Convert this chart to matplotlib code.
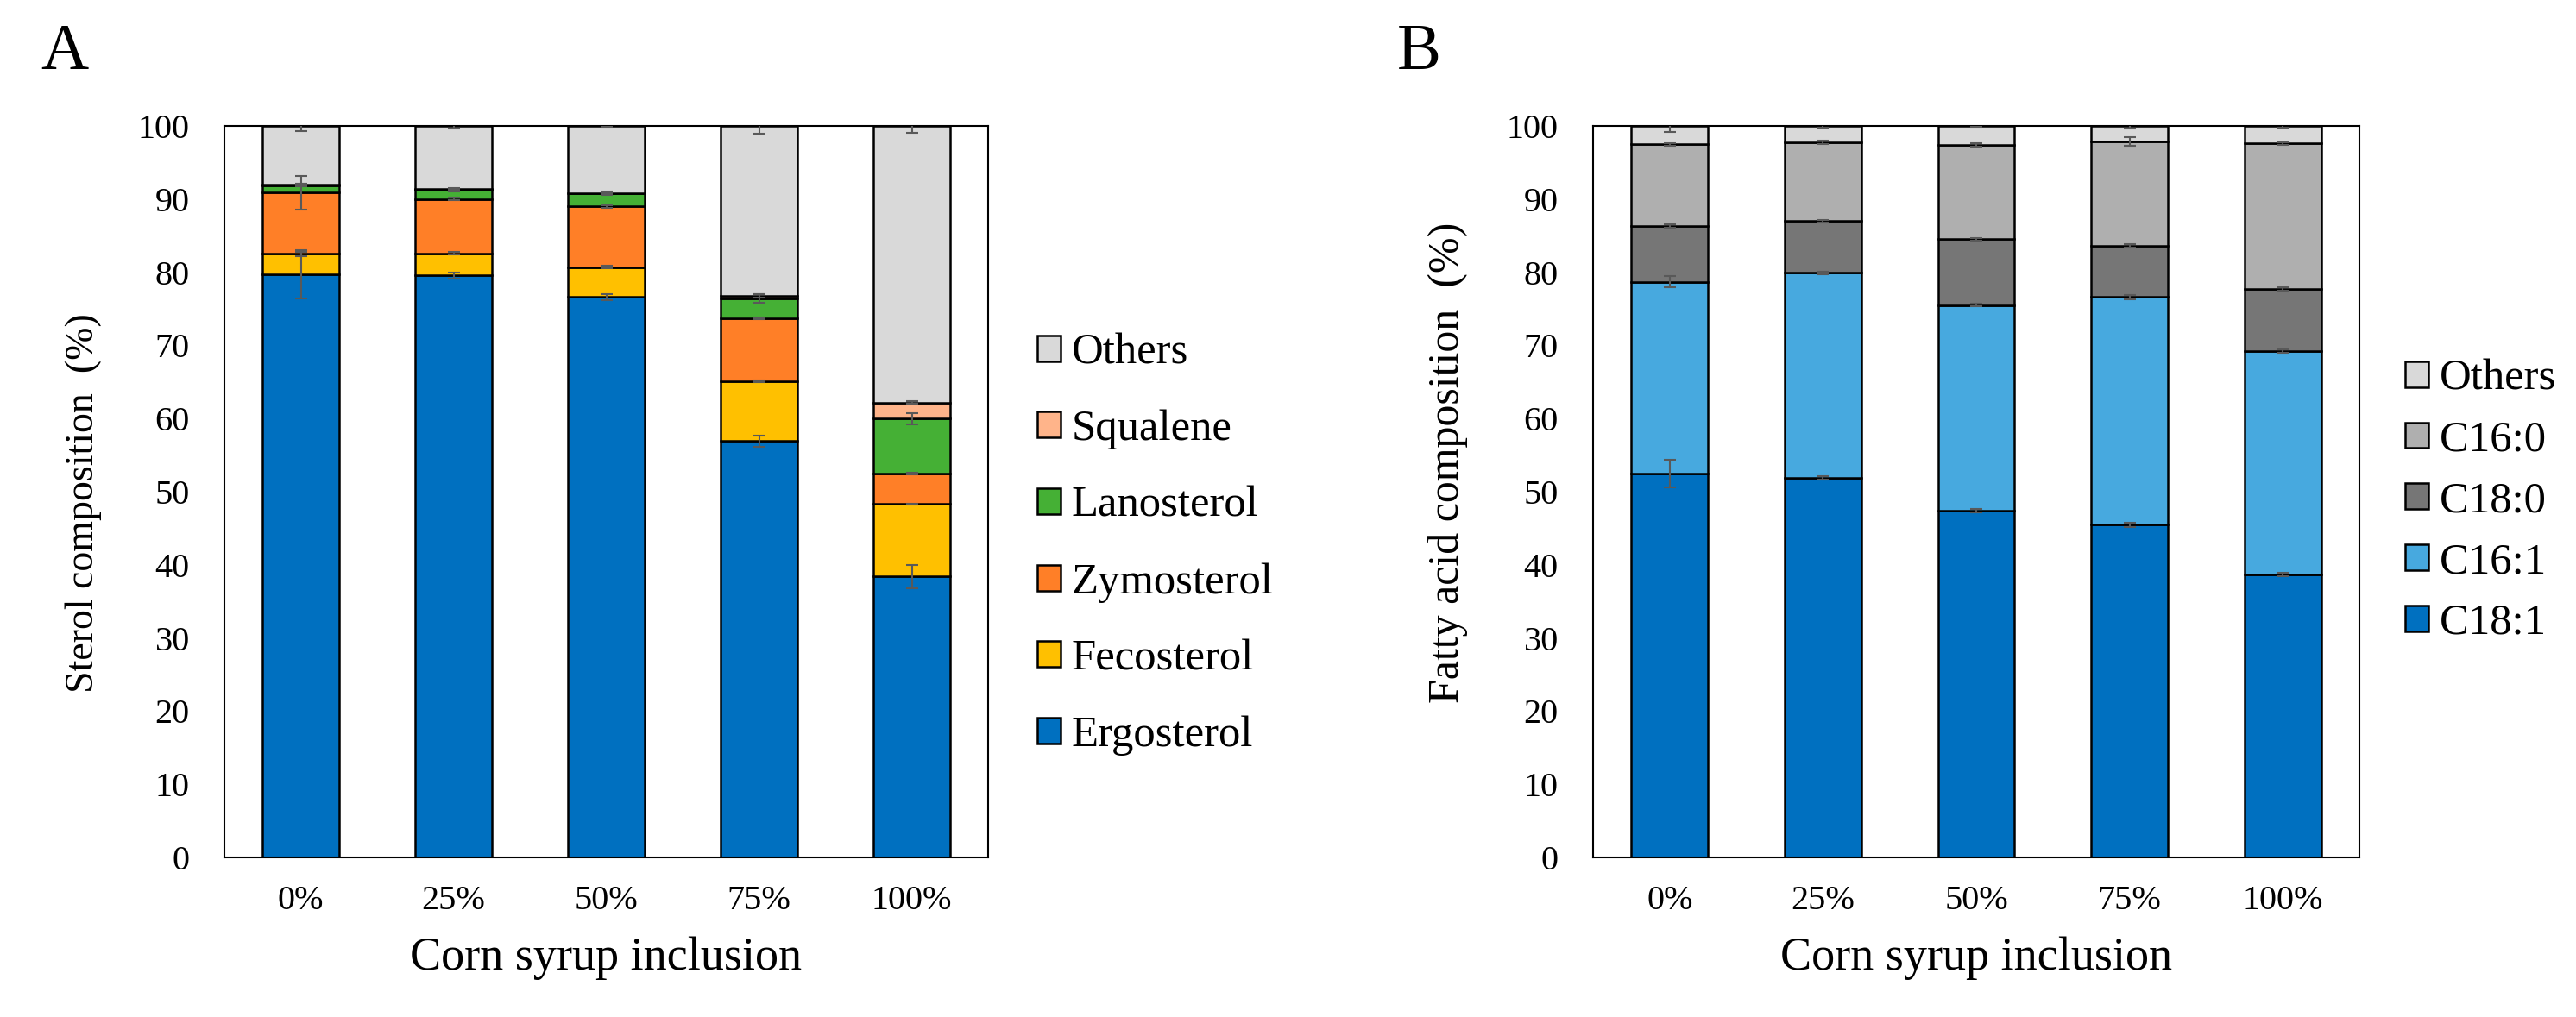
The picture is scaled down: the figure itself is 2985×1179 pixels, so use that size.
import matplotlib
matplotlib.use("Agg")
import matplotlib.pyplot as plt
import numpy as np

plt.rcParams['font.family'] = ['Liberation Serif', 'DejaVu Serif']

groups = ['0%', '25%', '50%', '75%', '100%']

# panel A: sterol composition (%), bottom to top
sterol_labels = ['Ergosterol', 'Fecosterol', 'Zymosterol', 'Lanosterol', 'Squalene', 'Others']
ergosterol = [79.7, 79.55, 76.6, 56.9, 38.4]
fecosterol = [2.8, 3.05, 4.1, 8.2, 9.9]
zymosterol = [8.4, 7.4, 8.3, 8.6, 4.2]
lanosterol = [1.0, 1.3, 1.8, 2.7, 7.5]
squalene = [0.1, 0.05, 0.05, 0.35, 2.2]
sterol_others = [8.0, 8.65, 9.15, 23.25, 37.8]

err_ergosterol = [3.3, 0.4, 0.4, 0.75, 1.6]
err_fecosterol = [0.3, 0.15, 0.15, 0.1, 0.1]
err_zymosterol = [2.3, 0.2, 0.2, 0.15, 0.1]
err_lanosterol = [0.2, 0.25, 0.25, 0.6, 0.75]
err_squalene = [0.1, 0.1, 0.1, 0.2, 0.15]
err_sterol_others = [0.7, 0.3, 0.1, 1.1, 1.0]

# panel B: fatty acid composition (%), bottom to top
fa_labels = ['C18:1', 'C16:1', 'C18:0', 'C16:0', 'Others']
c18_1 = [52.5, 51.9, 47.4, 45.5, 38.7]
c16_1 = [26.2, 28.0, 28.1, 31.1, 30.5]
c18_0 = [7.6, 7.1, 9.0, 7.0, 8.5]
c16_0 = [11.2, 10.8, 12.9, 14.3, 19.9]
fa_others = [2.5, 2.2, 2.6, 2.1, 2.4]

err_c18_1 = [1.9, 0.2, 0.2, 0.3, 0.2]
err_c16_1 = [0.8, 0.2, 0.15, 0.3, 0.2]
err_c18_0 = [0.2, 0.2, 0.2, 0.2, 0.2]
err_c16_0 = [0.2, 0.25, 0.2, 0.6, 0.2]
err_fa_others = [0.8, 0.2, 0.15, 0.3, 0.2]

sterol_colors = ['#0070C0', '#FFC000', '#FF7F27', '#45B035', '#FFB48A', '#D9D9D9']
fa_colors = ['#0070C0', '#47A9DF', '#767676', '#AFAFAF', '#D9D9D9']

W, H = 2985, 1179


def stacked(ax, parts, errs, colors, labels):
    x = np.arange(len(groups))
    bottom = np.zeros(len(groups))
    handles = []
    tops = []
    for vals, col, lab in zip(parts, colors, labels):
        h = ax.bar(x, vals, 0.5, bottom=bottom, color=col, edgecolor='black',
                   linewidth=1.8, label=lab, zorder=2)
        bottom = bottom + np.array(vals)
        tops.append(bottom.copy())
        handles.append(h)
    # error bars sit on the top of each stacked segment
    for top, err in zip(tops, errs):
        ax.errorbar(x, top, yerr=err, fmt='none', ecolor='#595959', elinewidth=1.5,
                    capsize=4.7, capthick=1.5, zorder=3)
    ax.set_xlim(-0.5, len(groups) - 0.5)
    ax.set_ylim(0, 100)
    ax.set_yticks(range(0, 101, 10))
    ax.set_xticks(x)
    ax.set_xticklabels(groups)
    ax.tick_params(axis='y', length=0, pad=29, labelsize=29)
    ax.tick_params(axis='x', length=0, pad=23, labelsize=29)
    for s in ax.spines.values():
        s.set_linewidth(1.5)
        s.set_color('black')
    ax.set_xlabel('Corn syrup inclusion', fontsize=39, labelpad=16.5)
    return handles


fig = plt.figure(figsize=(W / 100, H / 100), dpi=100)

axA = fig.add_axes([260 / W, 1 - 994 / H, 885 / W, 848 / H])
hA = stacked(axA,
             [ergosterol, fecosterol, zymosterol, lanosterol, squalene, sterol_others],
             [err_ergosterol, err_fecosterol, err_zymosterol, err_lanosterol,
              err_squalene, err_sterol_others],
             sterol_colors, sterol_labels)
axA.set_ylabel('Sterol composition  (%)', fontsize=33)
axA.yaxis.set_label_coords((118 - 260) / 885, (994 - 583) / 848)

axB = fig.add_axes([1846 / W, 1 - 994 / H, 888 / W, 848 / H])
hB = stacked(axB, [c18_1, c16_1, c18_0, c16_0, fa_others],
             [err_c18_1, err_c16_1, err_c18_0, err_c16_0, err_fa_others],
             fa_colors, fa_labels)
axB.set_ylabel('Fatty acid composition  (%)', fontsize=36)
axB.yaxis.set_label_coords((1701 - 1846) / 888, (994 - 536) / 848)

fig.legend(hA[::-1], sterol_labels[::-1], loc='center left',
           bbox_to_anchor=(1202 / W, 1 - 631 / H), frameon=False, fontsize=36.5,
           handlelength=0.53, handleheight=0.53, handletextpad=0.25,
           labelspacing=0.83, borderpad=0, borderaxespad=0)
fig.legend(hB[::-1], fa_labels[::-1], loc='center left',
           bbox_to_anchor=(2787 / W, 1 - 581 / H), frameon=False, fontsize=36.5,
           handlelength=0.53, handleheight=0.53, handletextpad=0.25,
           labelspacing=0.48, borderpad=0, borderaxespad=0)

fig.text(47 / W, 1 - 80 / H, 'A', fontsize=55, va='baseline')
fig.text(1619 / W, 1 - 80 / H, 'B', fontsize=55, va='baseline')

fig.savefig('out.png', dpi=100, facecolor='white')
plt.close('all')
